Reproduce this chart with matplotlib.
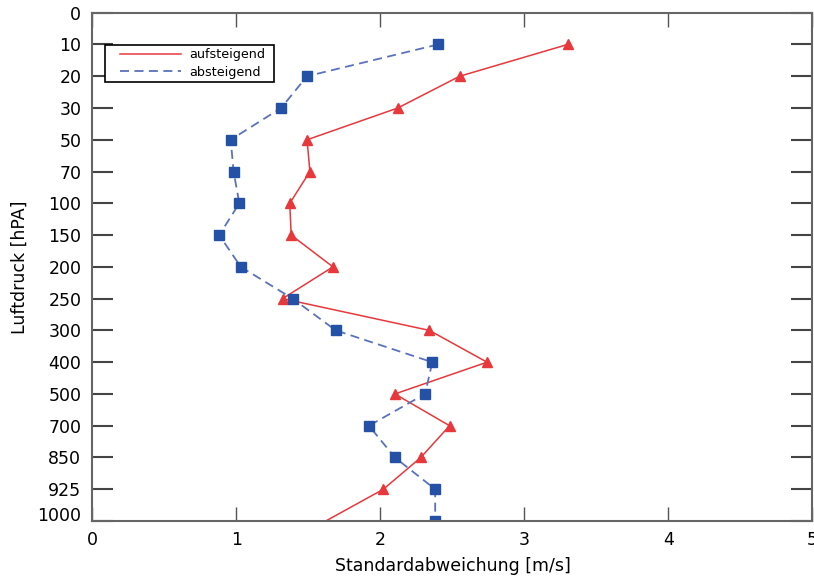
import matplotlib
matplotlib.use("Agg")
import matplotlib.pyplot as plt
from matplotlib.lines import Line2D
from matplotlib.legend_handler import HandlerLine2D
import numpy as np

# ── Daten ──────────────────────────────────────────────────────────────────────
druck_labels = ["0", "10", "20", "30", "50", "70", "100", "150", "200", "250",
                "300", "400", "500", "700", "850", "925", "1000"]
druck_werte  = ["10", "20", "30", "50", "70", "100", "150", "200", "250",
                "300", "400", "500", "700", "850", "925", "1000"]

aufsteigend = [3.30, 2.55, 2.12, 1.49, 1.51, 1.37, 1.38, 1.67, 1.32,
               2.34, 2.74, 2.10, 2.48, 2.28, 2.02, 1.62]
absteigend  = [2.40, 1.49, 1.31, 0.96, 0.98, 1.02, 0.88, 1.03, 1.39,
               1.69, 2.36, 2.31, 1.92, 2.10, 2.38, 2.38]

# ── Graphique ──────────────────────────────────────────────────────────────────
fig = plt.figure(figsize=(8.14, 5.77), dpi=100)
ax = fig.add_axes([0.1136, 0.097, 0.8845, 0.881])

y = np.array([druck_labels.index(p) for p in druck_werte])

ax.plot(aufsteigend, y, color="#e8383c", linewidth=1.1, marker="^",
        markersize=7, markevery=slice(0, -1), label="aufsteigend")
ax.plot(absteigend, y, color="#5a72bd", linewidth=1.3, linestyle=(0, (5, 3)),
        marker="s", markersize=7, markerfacecolor="#2450a6",
        markeredgecolor="#2450a6", label="absteigend")

ax.set_xlim(0, 5)
ax.set_ylim(len(druck_labels) - 1, 0)
ax.set_yticks(range(len(druck_labels)))
ax.set_yticklabels(druck_labels)
ax.set_xticks(range(6))

ax.tick_params(axis="y", direction="in", length=15, width=1.5, color="#444444",
               left=True, right=True, labelsize=12.5, pad=8)
ax.tick_params(axis="x", direction="in", length=10, width=1.0, color="#555555",
               top=True, bottom=True, labelsize=12.5, pad=7)
# letzte Beschriftung (1000) sitzt etwas höher
ax.get_yticklabels()[-1].set_va("baseline")
for s in ax.spines.values():
    s.set_color("#666666")
    s.set_linewidth(1.5)

ax.set_xlabel("Standardabweichung [m/s]", fontsize=12.5, labelpad=6)
ax.set_ylabel("Luftdruck [hPA]", fontsize=12.5, labelpad=6)

leg = ax.legend(loc="upper left", bbox_to_anchor=(0.0174, 0.8664, 0.2347, 0.07),
                mode="expand", fontsize=9.2, fancybox=False, framealpha=1,
                edgecolor="black", handlelength=5.7, borderpad=0.25,
                labelspacing=0.35, handletextpad=0.62, borderaxespad=0,
                handler_map={Line2D: HandlerLine2D(xpad=0.9)})
for h in leg.get_lines():
    h.set_marker("")
leg.get_frame().set_linewidth(1.2)

fig.savefig("out.png", dpi=100)
